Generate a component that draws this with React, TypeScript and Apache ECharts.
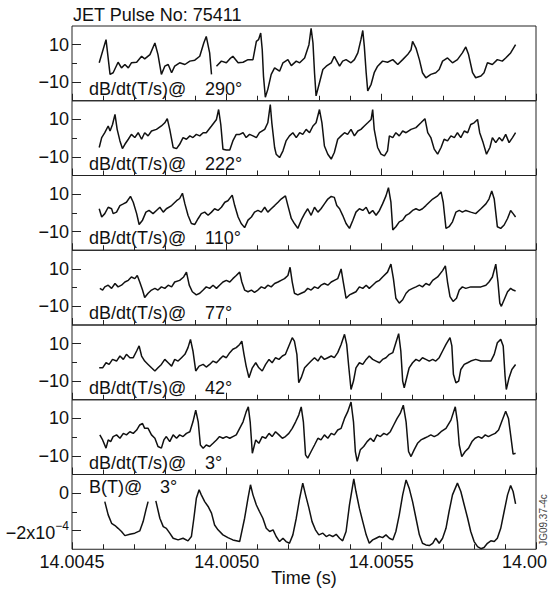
import React, { useEffect, useRef } from 'react';
import * as echarts from 'echarts';

// Time origin of the x axis (s); sample times are in microseconds after it.
const T0 = 14.0045;
const X_MIN_US = 0;
const X_MAX_US = 1500;
// The last tick label is shown truncated in the source figure.
const lastTickLabel = '14.00';

// dB/dt (T/s) at probe angle 290°
const dB290: [number, number | null][] = [
  [88,0.3],[110,12.7],[123,-5.9],[133,-5.0],[149,0.6],[160,-2.4],[171,-0.6],[182,-2.4],[192,0.3],[209,0.6],[225,3.8],[235,2.4],[252,4.7],[268,10.9],[278,4.7],[289,-5.9],[300,-1.5],[311,-0.6],[322,-5.0],[332,-1.5],[348,0.3],[365,-0.6],[381,1.2],[397,1.7],[413,3.8],[426,10.9],[434,14.4],[445,5.6],[451,-5.9],[459,null],[467,-1.5],[483,1.2],[499,0.3],[510,2.4],[520,3.8],[537,0.3],[553,0.6],[569,2.0],[585,2.0],[596,11.8],[603,12.7],[610,16.2],[615,7.3],[619,-6.8],[625,-18.1],[633,-13.9],[644,-5.9],[655,-2.4],[671,-4.2],[682,0.3],[698,2.0],[709,-1.2],[725,1.2],[736,0.3],[752,2.9],[766,10.0],[773,18.8],[779,10.9],[784,-5.0],[789,-17.4],[800,-10.4],[811,-3.3],[822,-1.5],[838,0.3],[848,3.8],[865,-1.5],[875,1.2],[886,2.0],[902,0.3],[913,2.0],[924,5.6],[934,12.7],[940,17.6],[945,9.1],[951,-5.0],[956,-14.8],[967,-11.2],[977,-5.0],[988,-1.5],[1004,1.2],[1020,0.6],[1037,2.0],[1053,-0.6],[1069,2.0],[1085,4.7],[1096,7.3],[1101,11.8],[1112,8.2],[1123,2.0],[1133,-5.0],[1144,-7.7],[1160,-5.9],[1176,-5.0],[1187,-3.3],[1198,1.2],[1214,2.9],[1230,0.3],[1246,2.0],[1262,5.6],[1273,8.8],[1282,4.7],[1295,-5.0],[1305,-7.7],[1322,-6.8],[1332,-5.0],[1343,0.3],[1359,-0.6],[1375,2.0],[1391,1.2],[1402,2.9],[1418,5.6],[1434,10.0]
];

// dB/dt (T/s) at 222°
const dB222: [number, number | null][] = [
  [88,-5.0],[96,0.3],[106,2.9],[117,6.5],[123,3.8],[131,7.3],[139,12.7],[146,4.7],[155,-1.5],[163,-5.6],[171,-3.3],[182,-0.6],[192,2.0],[203,0.3],[214,2.9],[225,-0.6],[235,2.9],[246,1.2],[257,3.8],[273,4.7],[289,6.5],[300,8.2],[308,10.4],[316,4.7],[327,-5.0],[338,-5.6],[348,-3.3],[359,0.3],[370,-0.6],[381,1.2],[391,0.3],[402,2.0],[413,1.2],[424,2.9],[434,2.9],[451,6.5],[467,10.0],[474,15.3],[481,7.3],[488,-5.9],[499,-6.3],[510,-6.3],[520,-1.5],[531,2.0],[542,2.0],[553,2.9],[563,0.3],[574,2.0],[585,1.2],[596,0.3],[606,2.9],[623,4.7],[633,8.2],[641,18.0],[646,8.2],[655,-5.0],[660,-8.6],[671,-10.4],[682,-6.8],[692,-1.5],[703,1.2],[714,2.9],[725,0.3],[736,2.9],[746,2.0],[757,4.7],[768,2.9],[779,6.5],[789,8.2],[800,15.3],[808,8.2],[816,-4.2],[827,-8.6],[838,-11.2],[848,-7.7],[859,-0.6],[870,1.2],[881,2.9],[891,2.0],[902,4.7],[913,1.2],[924,3.8],[934,4.7],[945,6.5],[956,8.2],[967,10.0],[972,15.3],[977,4.7],[988,-5.0],[999,-8.6],[1010,-9.5],[1020,-6.8],[1026,1.2],[1037,0.3],[1047,2.9],[1058,1.2],[1069,3.8],[1080,2.9],[1096,4.7],[1112,5.6],[1128,8.2],[1141,10.4],[1150,2.9],[1160,0.3],[1171,-5.9],[1182,-8.6],[1193,-5.0],[1203,-0.6],[1214,-1.5],[1225,1.2],[1236,0.3],[1246,2.9],[1257,0.3],[1268,3.8],[1279,2.9],[1289,7.3],[1300,8.2],[1311,10.0],[1318,2.9],[1329,-2.4],[1340,-8.6],[1351,-5.0],[1359,0.3],[1370,-2.4],[1381,0.3],[1391,-1.5],[1402,2.0],[1413,-2.4],[1424,0.3],[1434,2.9]
];

// dB/dt (T/s) at 110°
const dB110: [number, number | null][] = [
  [88,2.2],[96,-2.2],[106,-0.4],[117,3.0],[128,2.2],[133,-0.4],[144,0.4],[155,3.9],[166,4.8],[176,5.7],[189,8.8],[198,5.7],[209,-0.4],[217,-6.2],[228,-3.9],[239,0.4],[249,1.3],[262,-0.4],[273,1.3],[284,3.0],[295,0.4],[305,2.2],[322,3.9],[338,6.5],[348,7.7],[357,10.5],[365,4.8],[375,-1.3],[386,-5.7],[397,-6.2],[408,-3.0],[418,-0.4],[429,0.4],[440,-1.3],[451,0.4],[461,2.2],[472,1.3],[483,3.0],[494,5.7],[504,6.5],[518,9.5],[526,3.9],[537,-2.2],[547,-5.7],[558,-7.9],[569,-3.9],[580,-2.2],[590,0.4],[601,1.3],[612,0.4],[623,3.0],[633,0.4],[644,2.2],[655,3.9],[666,5.7],[676,7.4],[690,9.1],[698,3.9],[709,-3.0],[719,-5.7],[730,-8.3],[741,-3.9],[752,-0.4],[762,2.2],[773,-1.3],[784,3.0],[795,0.4],[805,2.2],[816,4.8],[827,7.4],[838,8.8],[848,8.3],[856,3.9],[865,2.2],[875,-1.3],[886,-5.7],[897,-8.3],[908,-3.9],[918,0.4],[929,2.2],[940,1.3],[951,3.0],[961,-0.4],[972,1.3],[983,-1.3],[994,1.3],[1004,4.8],[1015,9.1],[1023,13.5],[1031,5.7],[1037,-9.1],[1047,-7.4],[1058,-4.8],[1069,-3.9],[1080,-1.3],[1090,-0.4],[1101,1.3],[1112,2.2],[1123,1.3],[1133,2.2],[1144,3.9],[1155,5.7],[1166,7.4],[1182,9.1],[1193,11.2],[1200,5.7],[1209,-8.3],[1219,-7.4],[1230,-4.8],[1241,0.4],[1252,1.3],[1262,0.4],[1273,1.3],[1289,0.4],[1305,-0.4],[1322,2.2],[1338,4.8],[1348,7.4],[1357,11.7],[1365,7.4],[1375,-7.4],[1386,-8.3],[1397,-6.5],[1408,-3.0],[1418,1.3],[1426,-0.4],[1434,-2.2]
];

// dB/dt (T/s) at 77°
const dB77: [number, number | null][] = [
  [90,-0.4],[99,-1.3],[106,0.4],[117,1.3],[128,-0.4],[139,2.2],[149,0.4],[160,1.3],[171,3.0],[182,3.9],[192,5.7],[203,4.8],[211,6.5],[219,3.0],[228,-1.3],[235,-5.3],[246,-3.0],[257,-1.3],[268,-0.4],[278,-1.3],[289,0.4],[300,-0.4],[311,1.3],[322,0.4],[332,3.0],[348,3.9],[361,5.7],[370,8.3],[379,1.3],[389,-2.2],[402,-3.9],[413,-3.0],[424,-1.3],[434,0.4],[445,-0.4],[456,1.3],[467,-0.4],[477,1.3],[488,3.0],[499,3.9],[510,3.0],[520,4.8],[531,6.5],[542,8.3],[549,3.0],[558,-1.3],[569,-2.2],[580,-1.3],[590,-2.5],[601,-1.3],[612,0.4],[623,-0.4],[633,1.3],[644,0.4],[655,2.2],[666,3.0],[676,3.9],[687,4.8],[698,6.5],[705,10.9],[712,3.0],[719,-3.0],[730,-3.9],[741,-3.0],[752,-2.2],[762,-0.4],[773,-1.3],[784,0.4],[795,-0.4],[805,1.3],[816,2.2],[827,1.3],[838,3.0],[848,3.9],[859,4.8],[870,10.0],[877,3.0],[886,-5.7],[897,-3.9],[908,-3.0],[918,-2.2],[929,0.4],[940,-0.4],[951,1.3],[961,-0.4],[972,1.3],[983,3.0],[994,3.9],[1004,5.7],[1020,8.3],[1031,12.6],[1039,4.8],[1047,-5.7],[1058,-8.3],[1069,-6.5],[1080,-3.0],[1090,-1.3],[1101,-0.4],[1112,0.4],[1123,1.3],[1133,0.4],[1144,2.2],[1155,1.3],[1166,3.9],[1182,5.7],[1198,9.1],[1207,11.7],[1214,3.0],[1222,-4.8],[1232,-7.4],[1243,-5.7],[1252,-1.3],[1262,0.4],[1273,-0.4],[1289,0.4],[1305,0.4],[1322,0.4],[1338,1.3],[1348,3.0],[1359,5.7],[1370,12.6],[1377,3.0],[1383,-8.3],[1388,-10.0],[1397,-6.5],[1408,-2.2],[1418,-0.4],[1426,-1.3],[1434,-1.8]
];

// dB/dt (T/s) at 42°
const dB42: [number, number | null][] = [
  [88,-2.9],[99,-2.9],[110,-0.2],[120,-1.1],[131,1.6],[144,0.7],[155,3.4],[166,1.6],[176,4.3],[187,2.5],[198,2.5],[209,6.1],[217,8.8],[225,3.4],[235,0.7],[246,-1.1],[257,-2.9],[268,-4.6],[278,-2.9],[289,-1.1],[300,1.6],[311,-0.2],[322,-2.0],[332,1.6],[343,0.7],[354,2.5],[365,4.3],[375,7.9],[383,12.3],[391,6.1],[400,-4.6],[411,-2.0],[424,-1.1],[434,-2.5],[445,-1.1],[456,0.7],[467,-0.2],[477,1.6],[488,3.4],[499,2.5],[510,5.2],[520,7.0],[531,7.9],[542,9.6],[549,11.4],[556,4.3],[563,-2.0],[572,-8.2],[583,-2.9],[594,-0.2],[604,-2.9],[615,-4.6],[626,-1.1],[637,1.6],[647,-0.2],[658,2.5],[669,1.6],[680,3.4],[690,4.3],[701,8.8],[712,13.2],[719,11.4],[727,4.3],[733,-10.9],[741,-8.2],[752,-2.9],[762,-1.1],[773,0.7],[784,2.5],[795,0.7],[805,3.4],[816,1.6],[827,2.5],[838,3.4],[848,2.5],[859,5.2],[870,9.6],[881,15.0],[888,9.6],[895,-2.9],[902,-14.5],[910,-10.0],[918,-2.9],[929,-0.2],[940,-1.1],[951,1.6],[961,3.4],[972,1.6],[983,0.7],[994,-0.2],[1004,1.6],[1015,2.5],[1026,4.3],[1037,5.2],[1047,10.5],[1056,15.4],[1063,6.1],[1069,-10.0],[1074,-13.6],[1082,-8.2],[1090,-2.9],[1101,-0.2],[1112,1.6],[1123,0.7],[1133,2.5],[1144,1.6],[1155,0.7],[1166,1.6],[1176,0.7],[1187,2.5],[1198,6.1],[1209,9.6],[1222,13.2],[1228,8.8],[1233,-6.4],[1241,-10.9],[1250,-10.0],[1257,-3.8],[1268,-1.1],[1279,-0.2],[1289,0.7],[1305,1.6],[1322,0.7],[1338,0.7],[1354,0.7],[1365,4.3],[1375,10.5],[1386,12.3],[1394,8.8],[1400,-7.3],[1404,-14.5],[1413,-8.2],[1422,-3.8],[1434,-1.1]
];

// dB/dt (T/s) at 3°
const dB3: [number, number | null][] = [
  [90,1.2],[99,-1.5],[110,-5.9],[117,-1.5],[125,-2.4],[133,0.3],[144,1.2],[155,-0.6],[166,2.0],[176,1.2],[187,2.9],[198,2.0],[209,3.8],[219,6.5],[228,7.3],[235,4.7],[246,4.7],[257,1.2],[268,-0.6],[278,-5.0],[289,-5.9],[297,-1.5],[305,0.3],[316,-2.4],[327,1.2],[338,-0.6],[348,1.2],[359,0.3],[370,2.0],[381,2.9],[391,8.2],[400,14.4],[408,8.2],[415,-4.2],[424,-5.9],[434,-4.2],[445,-5.0],[456,-3.3],[467,-1.5],[477,0.3],[488,-0.6],[499,0.3],[510,-0.6],[520,0.3],[531,1.2],[542,4.7],[553,8.2],[563,13.5],[570,16.2],[576,8.2],[583,-8.6],[594,-1.5],[604,-3.3],[615,0.3],[626,-0.6],[637,2.0],[647,0.3],[658,2.9],[669,1.2],[680,-0.6],[690,0.3],[701,2.0],[712,4.7],[723,8.2],[733,11.8],[741,16.2],[748,8.2],[755,-9.5],[762,-11.2],[773,-7.7],[784,-4.2],[795,-0.6],[805,-1.5],[816,1.2],[827,-0.6],[838,2.0],[848,1.2],[859,3.8],[870,4.7],[881,10.0],[891,13.5],[902,18.8],[910,8.2],[916,-7.7],[922,-13.0],[932,-6.8],[943,-5.0],[954,-2.4],[965,-0.6],[975,-2.4],[986,1.2],[997,0.3],[1008,2.0],[1018,1.2],[1029,2.9],[1040,6.5],[1051,10.0],[1061,12.7],[1071,17.1],[1080,8.2],[1088,-7.7],[1096,-10.4],[1106,-6.8],[1117,-3.3],[1128,-1.5],[1139,-0.6],[1150,0.3],[1160,1.2],[1171,0.3],[1182,1.2],[1193,2.9],[1209,4.7],[1225,9.1],[1239,16.2],[1246,8.2],[1252,-4.2],[1260,-10.4],[1271,-7.7],[1282,-5.9],[1293,-2.4],[1303,-0.6],[1314,0.3],[1325,-0.6],[1336,1.2],[1346,0.3],[1357,1.2],[1368,2.0],[1379,3.8],[1389,8.2],[1402,13.9],[1411,10.0],[1418,1.2],[1426,-9.1],[1434,-8.6]
];

// B (units of 1e-4 T) at 3°
const bField3: [number, number | null][] = [
  [106,-0.45],[117,-1.16],[128,-1.61],[139,-1.73],[149,-1.88],[160,-2.05],[171,-2.27],[187,-2.20],[203,-2.14],[219,-2.02],[230,-1.52],[239,-0.89],[246,-0.45],[258,null],[271,-0.41],[284,-1.34],[295,-1.79],[305,-1.88],[316,-2.14],[327,-2.41],[343,-2.50],[359,-2.41],[375,-2.55],[386,-2.32],[394,-1.34],[402,-0.27],[411,0.18],[418,-0.09],[429,-0.45],[440,-0.71],[451,-1.07],[461,-1.70],[472,-1.96],[488,-2.23],[504,-2.38],[520,-2.50],[542,-2.59],[558,-1.34],[569,-0.27],[577,0.45],[585,-0.09],[596,-0.63],[606,-0.98],[617,-1.34],[628,-1.88],[639,-2.05],[650,-1.96],[660,-2.32],[671,-2.59],[682,-2.41],[692,-2.59],[703,-2.68],[714,-2.23],[725,-1.34],[736,-0.27],[746,0.54],[755,-0.09],[766,-0.80],[776,-1.52],[787,-1.96],[798,-2.23],[811,-2.14],[822,-2.32],[832,-2.23],[843,-2.32],[854,-2.20],[865,-2.41],[875,-2.55],[886,-2.05],[897,-0.63],[911,0.77],[918,0.09],[929,-0.80],[940,-1.52],[951,-2.23],[961,-2.68],[972,-2.50],[983,-2.41],[994,-2.32],[1004,-2.38],[1015,-2.23],[1026,-2.41],[1037,-2.50],[1047,-2.05],[1058,-1.16],[1069,-0.09],[1080,0.71],[1090,0.27],[1101,-0.45],[1112,-1.34],[1123,-2.23],[1133,-2.68],[1144,-2.77],[1155,-2.80],[1166,-2.68],[1176,-2.41],[1187,-2.68],[1198,-2.41],[1209,-1.88],[1219,-0.98],[1230,-0.09],[1246,0.54],[1257,0.09],[1268,-0.63],[1279,-1.34],[1289,-2.05],[1300,-2.59],[1311,-2.86],[1322,-2.97],[1332,-2.91],[1343,-2.68],[1354,-2.55],[1365,-2.59],[1375,-2.41],[1386,-1.88],[1397,-0.98],[1408,-0.09],[1418,0.41],[1426,0.09],[1434,-0.57]
];

const dBSeries = [dB290, dB222, dB110, dB77, dB42, dB3];
const probeAngles = ['290°', '222°', '110°', '77°', '42°', '3°'];
const dBLabel = 'dB/dt(T/s)@';
const bLabel = 'B(T)@';
const bAngle = '3°';
const titleText = 'JET Pulse No: 75411';
const xAxisTitle = 'Time (s)';
const figureId = 'JG09.37-4c';

const FONT = "'Liberation Sans', Arial, Helvetica, sans-serif";
const W = 548;
const H = 594;
const LEFT = 72;
const RIGHT = 12;
const TOP = 26;
const PH = 74.75;
const INK = '#111';
const AXIS = '#222';

export default function App() {
  const ref = useRef<HTMLDivElement>(null);
  useEffect(() => {
    if (!ref.current) return;
    const chart = echarts.init(ref.current, undefined, { renderer: 'svg', width: W, height: H });
    const n = 7;
    const grids: any[] = [];
    const xAxes: any[] = [];
    const yAxes: any[] = [];
    const series: any[] = [];
    const graphics: any[] = [];
    for (let i = 0; i < n; i++) {
      const top = TOP + i * PH;
      grids.push({
        left: LEFT, right: RIGHT, top, height: PH, show: true,
        borderColor: AXIS, borderWidth: 1, backgroundColor: 'transparent',
        containLabel: false, outerBoundsMode: 'none',
      });
      xAxes.push({
        type: 'value', gridIndex: i, min: X_MIN_US, max: X_MAX_US, interval: 500,
        axisLine: { show: false, onZero: false },
        axisTick: { show: true, inside: true, length: 7, lineStyle: { color: AXIS, width: 1 } },
        minorTick: { show: true, splitNumber: 5, length: 5, lineStyle: { color: AXIS, width: 1 } },
        splitLine: { show: false }, minorSplitLine: { show: false },
        axisLabel: {
          show: i === n - 1, fontSize: 18, fontFamily: FONT, color: INK, margin: 4,
          hideOverlap: false,
          formatter: (v: number) => (v >= X_MAX_US ? '' : (T0 + v * 1e-6).toFixed(4)),
        },
      });
      const isB = i === n - 1;
      const yMin = isB ? -3 : -20;
      const yMax = isB ? 1 : 20;
      const major = isB ? [-2, 0] : [-10, 10];
      const minor = isB ? [-1] : [0];
      yAxes.push({
        type: 'value', gridIndex: i, min: yMin, max: yMax, interval: isB ? 1 : 10, position: 'left',
        axisLine: { show: false, onZero: false }, splitLine: { show: false },
        axisTick: { show: true, inside: true, length: 9, customValues: major, lineStyle: { color: AXIS, width: 1 } },
        axisLabel: {
          show: true, fontSize: 18, fontFamily: FONT, color: INK, margin: 3,
          customValues: major,
          formatter: (v: number) => {
            if (isB) {
              if (v === 0) return '0';
              if (v === -2) return '{m|−2x10}{s|−4}';
              return '';
            }
            if (v === 10) return '10';
            if (v === -10) return '−10';
            return '';
          },
          rich: {
            m: { fontSize: 18, fontFamily: FONT, color: INK, lineHeight: 22, verticalAlign: 'bottom' },
            s: { fontSize: 12, fontFamily: FONT, color: INK, lineHeight: 12, verticalAlign: 'top' },
          },
        },
      });
      yAxes.push({
        type: 'value', gridIndex: i, min: yMin, max: yMax, position: 'left',
        axisLine: { show: false, onZero: false }, splitLine: { show: false }, axisLabel: { show: false },
        axisTick: { show: true, inside: true, length: 5, customValues: minor, lineStyle: { color: AXIS, width: 1 } },
      });
      const data = isB ? bField3 : dBSeries[i];
      series.push({
        type: 'line', xAxisIndex: i, yAxisIndex: 2 * i, data,
        showSymbol: false, symbol: 'none', connectNulls: false, smooth: false,
        lineStyle: { color: INK, width: 1.5 }, silent: true,
      });
      if (!isB) {
        const cy = top + PH - 12;
        graphics.push({ type: 'text', x: 89, y: cy, style: { text: dBLabel, fontSize: 18, fontFamily: FONT, fill: INK, align: 'left', verticalAlign: 'middle' } });
        graphics.push({ type: 'text', x: 205, y: cy, style: { text: probeAngles[i], fontSize: 18, fontFamily: FONT, fill: INK, align: 'left', verticalAlign: 'middle' } });
      } else {
        const cy = top + 12.5;
        graphics.push({ type: 'text', x: 89, y: cy, style: { text: bLabel, fontSize: 18, fontFamily: FONT, fill: INK, align: 'left', verticalAlign: 'middle' } });
        graphics.push({ type: 'text', x: 160, y: cy, style: { text: bAngle, fontSize: 18, fontFamily: FONT, fill: INK, align: 'left', verticalAlign: 'middle' } });
      }
    }
    const plotBottom = TOP + n * PH;
    graphics.push({ type: 'text', x: W - 1, y: plotBottom + 4, style: { text: lastTickLabel, fontSize: 18, fontFamily: FONT, fill: INK, align: 'right', verticalAlign: 'top' } });
    graphics.push({ type: 'text', x: 73, y: 15, style: { text: titleText, fontSize: 18, fontFamily: FONT, fill: INK, align: 'left', verticalAlign: 'middle' } });
    graphics.push({ type: 'text', x: (LEFT + W - RIGHT) / 2, y: 578, style: { text: xAxisTitle, fontSize: 18, fontFamily: FONT, fill: INK, align: 'center', verticalAlign: 'middle' } });
    graphics.push({ type: 'text', x: 543, y: 520, rotation: Math.PI / 2, style: { text: figureId, fontSize: 10, fontFamily: FONT, fill: '#444', align: 'center', verticalAlign: 'middle' } });

    chart.setOption({
      animation: false,
      backgroundColor: '#fff',
      grid: grids,
      xAxis: xAxes,
      yAxis: yAxes,
      series,
      graphic: graphics,
    });
    return () => chart.dispose();
  }, []);
  return <div ref={ref} style={{ position: 'fixed', left: 0, top: 0, width: W, height: H }} />;
}
